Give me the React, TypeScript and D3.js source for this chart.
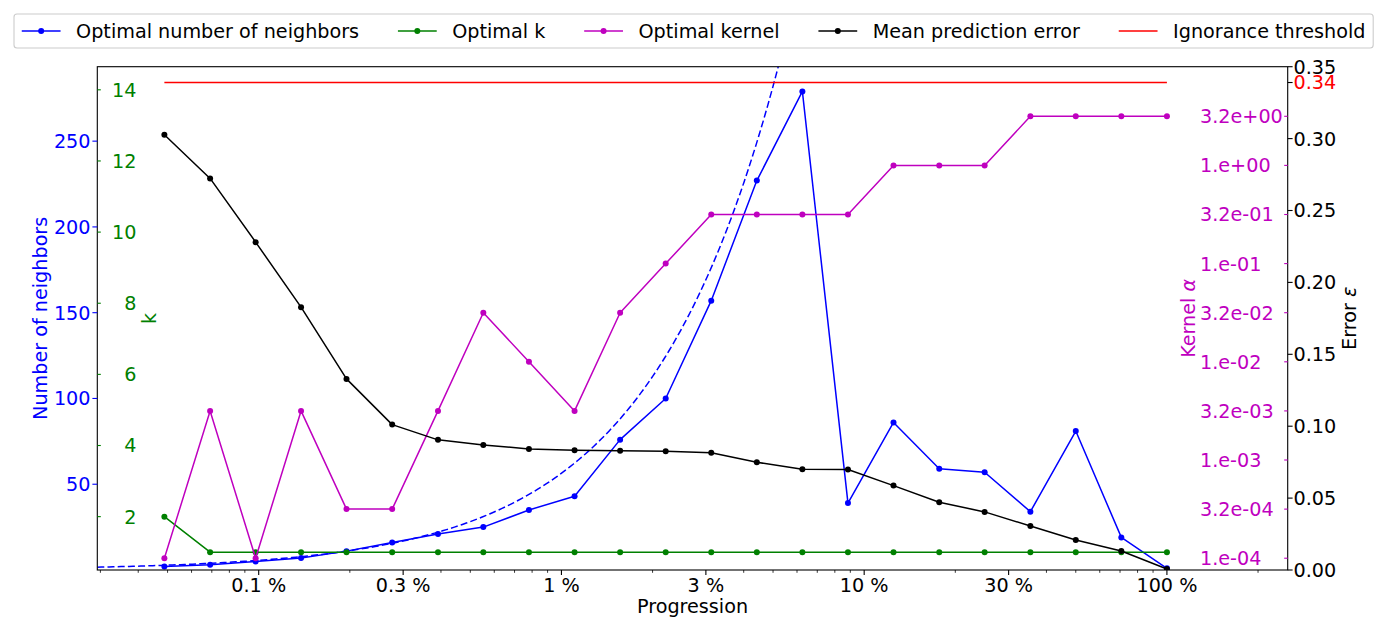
import React, {useEffect, useRef} from "react";
import * as d3 from 'd3';

// progression in percent (x axis, log)
const progression = [0.0488, 0.0691, 0.0977, 0.138, 0.195, 0.276, 0.391, 0.552, 0.781, 1.105, 1.5625, 2.21,
    3.125, 4.42, 6.25, 8.84, 12.5, 17.7, 25, 35.4, 50, 70.7, 100];
const neighbors = [2, 3, 5, 7, 11, 16, 21, 25, 35, 43, 76, 100, 157, 227, 279, 39, 86, 59, 57, 34, 81, 19, 1];
const optimalK = [2, 1, 1, 1, 1, 1, 1, 1, 1, 1, 1, 1, 1, 1, 1, 1, 1, 1, 1, 1, 1, 1, 1];
const kernelAlpha = [1e-4, 3.162e-3, 1e-4, 3.162e-3, 3.162e-4, 3.162e-4, 3.162e-3, 3.162e-2, 1e-2, 3.162e-3,
    3.162e-2, 1e-1, 3.162e-1, 3.162e-1, 3.162e-1, 3.162e-1, 1, 1, 1, 3.162, 3.162, 3.162, 3.162];
const meanError = [0.3027, 0.2723, 0.2280, 0.1828, 0.1329, 0.1011, 0.0905, 0.0870, 0.0842, 0.0833, 0.0830, 0.0826,
    0.0816, 0.0749, 0.0701, 0.0699, 0.0587, 0.0471, 0.0404, 0.0306, 0.0209, 0.0132, 0.0007];
const ignoranceThreshold = 0.339;
// linear fit of neighbors vs progression (neighbors per percent)
const fitSlope = 56.4;

const xTicks = [0.1, 0.3, 1, 3, 10, 30, 100];
const xTickLabels = ["0.1 %", "0.3 %", "1 %", "3 %", "10 %", "30 %", "100 %"];
const neighborTicks = [50, 100, 150, 200, 250];
const kTicks = [2, 4, 6, 8, 10, 12, 14];
const kernelTicks = [1e-4, 3.162e-4, 1e-3, 3.162e-3, 1e-2, 3.162e-2, 1e-1, 3.162e-1, 1, 3.162];
const kernelTickLabels = ["1.e-04", "3.2e-04", "1.e-03", "3.2e-03", "1.e-02", "3.2e-02", "1.e-01", "3.2e-01", "1.e+00", "3.2e+00"];
const errorTicks = [0, 0.05, 0.1, 0.15, 0.2, 0.25, 0.3, 0.35];
const errorTickLabels = ["0.00", "0.05", "0.10", "0.15", "0.20", "0.25", "0.30", "0.35"];

const legendItems = [
    {label: "Optimal number of neighbors", color: "#0000ff", marker: true},
    {label: "Optimal k", color: "#008000", marker: true},
    {label: "Optimal kernel", color: "#bf00bf", marker: true},
    {label: "Mean prediction error", color: "#000000", marker: true},
    {label: "Ignorance threshold", color: "#ff0000", marker: false},
];

const W = 1385, H = 632;
const plot = {left: 97.3, right: 1287.7, top: 66.7, bottom: 570};
const FS = 19.2;
const FONT = "DejaVu Sans";

const App: React.FC = () => {
    const svgRef = useRef<SVGSVGElement | null>(null);

    useEffect(() => {
        if (!svgRef.current) return;
        const svg = d3.select(svgRef.current);
        svg.selectAll('*').remove();
        svg.attr("font-family", FONT).attr("font-size", FS);

        const x = d3.scaleLog().domain([0.0293, 250.6]).range([plot.left, plot.right]);
        const yN = d3.scaleLinear().domain([0, 293.4]).range([plot.bottom, plot.top]);
        const yK = d3.scaleLinear().domain([0.5, 14.65]).range([plot.bottom, plot.top]);
        const yA = d3.scaleLog().domain([Math.pow(10, -4.12), Math.pow(10, 1.005)]).range([plot.bottom, plot.top]);
        const yE = d3.scaleLinear().domain([0, 0.35]).range([plot.bottom, plot.top]);

        svg.append("rect").attr("width", W).attr("height", H).attr("fill", "white");

        svg.append("clipPath").attr("id", "plotclip")
            .append("rect")
            .attr("x", plot.left).attr("y", plot.top)
            .attr("width", plot.right - plot.left).attr("height", plot.bottom - plot.top);

        const root = svg.append("g").attr("clip-path", "url(#plotclip)");

        // fitted curve (dashed)
        const [d0, d1] = x.domain();
        const fitXs = d3.range(0, 301).map(i => d0 * Math.pow(d1 / d0, i / 300));
        root.append("path")
            .attr("d", d3.line<number>().x(p => x(p)).y(p => yN(fitSlope * p))(fitXs))
            .attr("fill", "none").attr("stroke", "#0000ff").attr("stroke-width", 1.5)
            .attr("stroke-dasharray", "7,3.2");

        const drawSeries = (vals: number[], y: (v: number) => number, color: string) => {
            const pts = vals.map((v, i) => [x(progression[i]), y(v)] as [number, number]);
            root.append("path")
                .attr("d", d3.line()(pts))
                .attr("fill", "none").attr("stroke", color).attr("stroke-width", 1.5)
                .attr("stroke-linejoin", "round");
            root.selectAll(null).data(pts).enter().append("circle")
                .attr("cx", d => d[0]).attr("cy", d => d[1]).attr("r", 3)
                .attr("fill", color);
        };
        drawSeries(neighbors, yN, "#0000ff");
        drawSeries(optimalK, yK, "#008000");
        drawSeries(kernelAlpha, yA, "#bf00bf");
        drawSeries(meanError, yE, "#000000");

        root.append("line")
            .attr("x1", x(progression[0])).attr("x2", x(progression[progression.length - 1]))
            .attr("y1", yE(ignoranceThreshold)).attr("y2", yE(ignoranceThreshold))
            .attr("stroke", "#ff0000").attr("stroke-width", 1.5);

        // frame
        svg.append("rect")
            .attr("x", plot.left).attr("y", plot.top)
            .attr("width", plot.right - plot.left).attr("height", plot.bottom - plot.top)
            .attr("fill", "none").attr("stroke", "#000").attr("stroke-width", 1.1);

        // x axis
        const xa = svg.append("g");
        const minor = x.ticks().filter(t => !xTicks.some(m => Math.abs(m - t) / m < 1e-6));
        xa.selectAll(null).data(minor).enter().append("line")
            .attr("x1", d => x(d)).attr("x2", d => x(d))
            .attr("y1", plot.bottom).attr("y2", plot.bottom + 2.8)
            .attr("stroke", "#000").attr("stroke-width", 0.8);
        xa.selectAll(null).data(xTicks).enter().append("line")
            .attr("x1", d => x(d)).attr("x2", d => x(d))
            .attr("y1", plot.bottom).attr("y2", plot.bottom + 4.9)
            .attr("stroke", "#000").attr("stroke-width", 1.1);
        xa.selectAll(null).data(xTicks).enter().append("text")
            .attr("x", d => x(d)).attr("y", 591.5)
            .attr("text-anchor", "middle").attr("fill", "#000")
            .text((d, i) => xTickLabels[i]);
        svg.append("text").attr("x", (plot.left + plot.right) / 2).attr("y", 613)
            .attr("text-anchor", "middle").text("Progression");

        // generic y ticks
        const yTicks = (vals: number[], labels: string[], y: (v: number) => number, tickX0: number, tickX1: number,
                        labelX: number, anchor: string, tickColor: string, labelColor: string) => {
            const g = svg.append("g");
            g.selectAll(null).data(vals).enter().append("line")
                .attr("x1", tickX0).attr("x2", tickX1)
                .attr("y1", d => y(d)).attr("y2", d => y(d))
                .attr("stroke", tickColor).attr("stroke-width", 1.1);
            g.selectAll(null).data(vals).enter().append("text")
                .attr("x", labelX).attr("y", d => y(d)).attr("dy", "0.36em")
                .attr("text-anchor", anchor).attr("fill", labelColor)
                .text((d, i) => labels[i]);
        };
        yTicks(neighborTicks, neighborTicks.map(String), yN, plot.left, plot.left - 4.9, 90.5, "end", "#0000ff", "#0000ff");
        yTicks(kTicks, kTicks.map(String), yK, plot.left, plot.left + 3.5, 136.5, "end", "#008000", "#008000");
        yTicks(kernelTicks, kernelTickLabels, yA, plot.right, plot.right - 3.5, 1200, "start", "#bf00bf", "#bf00bf");
        yTicks(errorTicks, errorTickLabels, yE, plot.right, plot.right + 4.9, 1293.5, "start", "#000", "#000");
        yTicks([ignoranceThreshold], ["0.34"], yE, plot.right, plot.right + 4.9, 1293.5, "start", "#000", "#ff0000");

        const yMid = (plot.top + plot.bottom) / 2;
        const yLabel = (bx: number, color: string, text: string, sym?: string) => {
            const t = svg.append("text")
                .attr("transform", `translate(${bx},${yMid}) rotate(-90)`)
                .attr("text-anchor", "middle").attr("fill", color);
            t.append("tspan").text(text);
            if (sym) t.append("tspan").attr("font-style", "italic").text(" " + sym);
        };
        yLabel(46.5, "#0000ff", "Number of neighbors");
        yLabel(156, "#008000", "k");
        yLabel(1195, "#bf00bf", "Kernel", "α");
        yLabel(1356, "#000", "Error", "ε");

        // legend
        const em = 19.4;
        const handleLen = 2.0 * em, textPad = 0.8 * em, colSpace = 2.0 * em, borderPad = 0.4 * em;
        const lg = svg.append("g");
        const frame = lg.append("rect").attr("x", 14).attr("y", 14).attr("height", 34)
            .attr("rx", 3).attr("fill", "white").attr("stroke", "#cccccc").attr("stroke-width", 1.1);
        let cx = 14 + borderPad;
        const ly = 31;
        legendItems.forEach(item => {
            lg.append("line").attr("x1", cx).attr("x2", cx + handleLen).attr("y1", ly).attr("y2", ly)
                .attr("stroke", item.color).attr("stroke-width", 1.5);
            if (item.marker) {
                lg.append("circle").attr("cx", cx + handleLen / 2).attr("cy", ly).attr("r", 3).attr("fill", item.color);
            }
            const t = lg.append("text").attr("x", cx + handleLen + textPad).attr("y", ly).attr("dy", "0.36em")
                .attr("fill", "#000").text(item.label);
            const w = (t.node() as SVGTextElement).getComputedTextLength();
            cx = cx + handleLen + textPad + w + colSpace;
        });
        frame.attr("width", cx - colSpace + borderPad - 14);
    }, []);

    return (
        <div style={{position: "absolute", left: 0, top: 0}}>
            <svg ref={svgRef} width={W} height={H} style={{display: "block"}}/>
        </div>
    );
};

export default App;
